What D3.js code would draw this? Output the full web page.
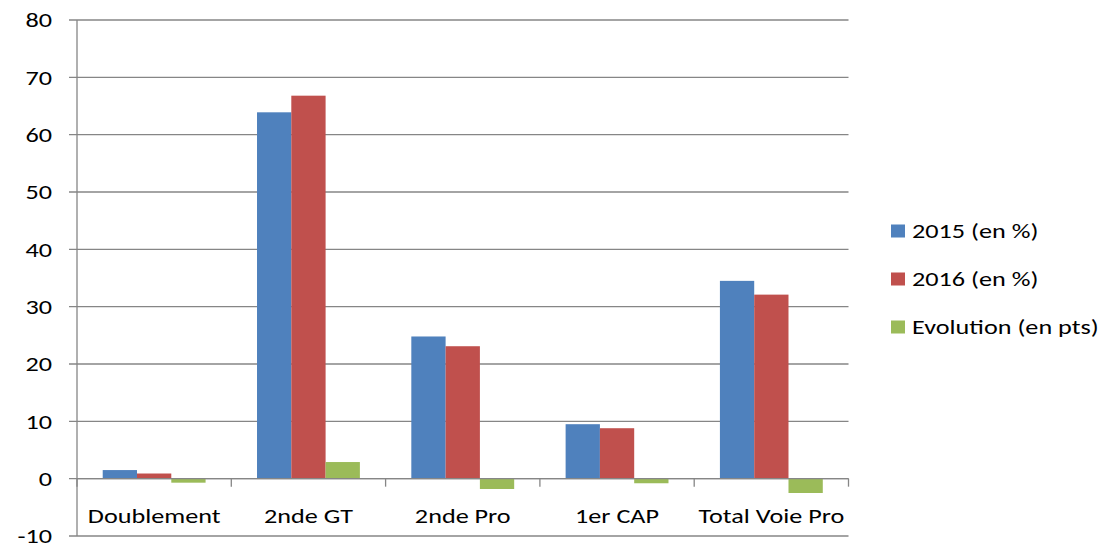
<!DOCTYPE html>
<html>
<head>
<meta charset="utf-8">
<script src="https://cdn.jsdelivr.net/npm/d3@7"></script>
<style>
  body { margin: 0; background: #fff; }
  text { font-family: Calibri, Carlito, Lato, sans-serif; fill: #000; }
</style>
</head>
<body>
<div id="chart"></div>
<script>
// data
var categories = ["Doublement", "2nde GT", "2nde Pro", "1er CAP", "Total Voie Pro"];
var v2015 = [1.5, 63.9, 24.8, 9.5, 34.5];
var v2016 = [0.9, 66.8, 23.1, 8.8, 32.1];
var evolution = [-0.7, 2.9, -1.8, -0.8, -2.5];
var seriesNames = ["2015 (en %)", "2016 (en %)", "Evolution (en pts)"];
var seriesColors = ["#4F81BD", "#C0504D", "#9BBB59"];
var yTicks = [-10, 0, 10, 20, 30, 40, 50, 60, 70, 80];

var series = [v2015, v2016, evolution];

var width = 1109, height = 549;
var plot = {left: 77, right: 848.5, top: 20, bottom: 536};
var fontSize = 20;
var stretch = 1.31; // the original picture is stretched sideways

function place(x, yy) {
  return "translate(" + x + "," + yy + ") scale(" + stretch + ",1)";
}

var svg = d3.select("#chart")
  .append("svg")
    .attr("width", width)
    .attr("height", height);

var y = d3.scaleLinear()
  .domain([-10, 80])
  .range([plot.bottom, plot.top]);

// gap width 150% like excel
var x0 = d3.scaleBand()
  .domain(categories)
  .range([plot.left, plot.right])
  .paddingInner(1 / 3)
  .paddingOuter(1 / 6);

var x1 = d3.scaleBand()
  .domain(d3.range(series.length))
  .range([0, x0.bandwidth()]);

// gridlines
svg.append("g")
  .selectAll("line")
  .data(yTicks)
  .enter().append("line")
    .attr("x1", plot.left - 8)
    .attr("x2", plot.right)
    .attr("y1", d => y(d))
    .attr("y2", d => y(d))
    .attr("stroke", "#868686")
    .attr("stroke-width", 1.3);

// y axis labels
svg.append("g")
  .selectAll("text")
  .data(yTicks)
  .enter().append("text")
    .attr("transform", d => place(52, y(d)))
    .attr("dy", "0.36em")
    .attr("text-anchor", "end")
    .style("font-size", fontSize + "px")
    .text(d => d);

// bars
var groups = svg.append("g")
  .selectAll("g")
  .data(categories)
  .enter().append("g")
    .attr("transform", d => "translate(" + x0(d) + ",0)");

groups.selectAll("rect")
  .data((d, i) => series.map((s, k) => ({k: k, v: s[i]})))
  .enter().append("rect")
    .attr("x", d => x1(d.k))
    .attr("width", x1.bandwidth())
    .attr("y", d => y(Math.max(0, d.v)))
    .attr("height", d => Math.abs(y(d.v) - y(0)))
    .attr("fill", d => seriesColors[d.k]);

// y axis line
svg.append("line")
  .attr("x1", plot.left).attr("x2", plot.left)
  .attr("y1", plot.top).attr("y2", plot.bottom)
  .attr("stroke", "#868686")
  .attr("stroke-width", 1.3);

// category axis at zero, ticks between categories
var boundaries = d3.range(categories.length + 1).map(i => plot.left + i * x0.step());
svg.append("line")
  .attr("x1", plot.left).attr("x2", plot.right)
  .attr("y1", y(0)).attr("y2", y(0))
  .attr("stroke", "#868686")
  .attr("stroke-width", 1.3);
svg.append("g")
  .selectAll("line")
  .data(boundaries)
  .enter().append("line")
    .attr("x1", d => d).attr("x2", d => d)
    .attr("y1", y(0)).attr("y2", y(0) + 8)
    .attr("stroke", "#868686")
    .attr("stroke-width", 1.3);

svg.append("g")
  .selectAll("text")
  .data(categories)
  .enter().append("text")
    .attr("transform", d => place(x0(d) + x0.bandwidth() / 2, 523))
    .attr("text-anchor", "middle")
    .style("font-size", fontSize + "px")
    .text(d => d);

// legend
var legend = svg.append("g")
  .selectAll("g")
  .data(seriesNames)
  .enter().append("g")
    .attr("transform", (d, i) => "translate(891," + (231 + i * 48) + ")");

legend.append("rect")
  .attr("x", 0)
  .attr("y", -6.5)
  .attr("width", 14)
  .attr("height", 13)
  .attr("fill", (d, i) => seriesColors[i]);

legend.append("text")
  .attr("transform", place(21, 0))
  .attr("dy", "0.36em")
  .style("font-size", fontSize + "px")
  .text(d => d);
</script>
</body>
</html>
